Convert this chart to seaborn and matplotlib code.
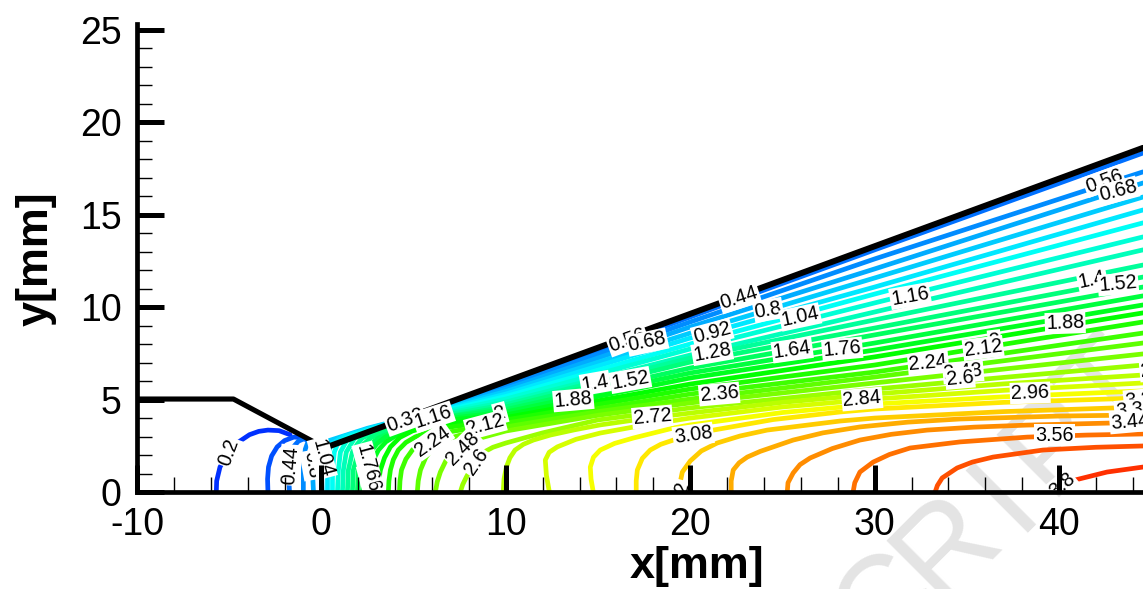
import pandas as pd
import matplotlib
matplotlib.use('Agg')
import matplotlib.pyplot as plt
from matplotlib.ticker import MultipleLocator
import seaborn as sns

# Contour values, [x mm, y mm] along each line
c_020 = [[-5.7, 0], [-5.68, 0.6], [-5.5, 1.35], [-5.1, 2.05], [-4.5, 2.7], [-3.9, 3.1], [-3.4, 3.28], [-2.9, 3.35], [-2.3, 3.32], [-1.7, 3.1]]
c_032 = [[-2.9, 0], [-2.92, 0.7], [-2.87, 1.35], [-2.7, 1.95], [-2.4, 2.44], [-2.0, 2.78], [-1.5, 2.97], [-1.1, 2.95], [-0.76, 2.8]]
c_044 = [[-1.73, 0], [-1.79, 1.19], [-1.75, 1.8], [-1.6, 2.35], [-1.25, 2.75], [-0.9, 2.9]]
c_044w = [[0.9, 2.72], [5.69, 4.37], [10, 5.84], [20, 9.47], [30, 13.1], [44.55, 18.34]]
c_056 = [[-0.98, 0], [-0.98, 1.19], [-0.95, 1.8], [-0.88, 2.3], [-0.7, 2.8]]
c_056w = [[0.9, 2.68], [5.69, 4.34], [10, 5.71], [20, 9.2], [30, 12.61], [44.55, 17.32]]
c_068 = [[-0.43, 0], [-0.49, 1.19], [-0.49, 2.16], [-0.43, 2.7]]
c_068w = [[0.9, 2.64], [5.69, 4.31], [10, 5.57], [20, 8.93], [30, 12.07], [44.55, 16.72]]
c_080 = [[0.05, 0], [0, 1.19], [0, 2.16], [0.16, 2.7], [2.5, 3.45], [5.69, 4.27], [10, 5.44], [20, 8.6], [30, 11.58], [44.55, 15.96]]
c_092 = [[0.33, 0], [0.33, 1.19], [0.38, 2.16], [0.54, 2.6], [1.2, 3.0], [3.0, 3.55], [5.69, 4.23], [10, 5.3], [20, 8.33], [30, 11.09], [44.55, 15.26]]
c_104 = [[0.6, 0], [0.6, 1.19], [0.7, 2.16], [0.92, 2.7], [1.6, 3.05], [3.3, 3.55], [5.69, 4.18], [10, 5.17], [20, 8.01], [30, 10.71], [44.55, 14.56]]
c_116 = [[0.87, 0], [0.92, 1.19], [1.03, 2.16], [1.41, 2.85], [2.1, 3.15], [3.6, 3.58], [5.69, 4.12], [10, 5.03], [20, 7.74], [30, 10.23], [44.55, 13.8]]
c_128 = [[1.14, 0], [1.19, 1.19], [1.35, 2.16], [1.79, 2.9], [2.5, 3.2], [3.8, 3.58], [5.69, 4.05], [10, 4.87], [20, 7.41], [30, 9.74], [44.55, 13.1]]
c_140 = [[1.41, 0], [1.46, 1.19], [1.68, 2.16], [1.95, 2.6], [2.22, 2.92], [2.9, 3.25], [4.0, 3.58], [5.69, 3.98], [10, 4.73], [20, 7.25], [30, 9.31], [44.55, 12.28]]
c_152 = [[1.68, 0], [1.73, 1.19], [2.0, 2.16], [2.3, 2.6], [2.66, 2.92], [3.3, 3.25], [4.3, 3.58], [5.69, 3.9], [10, 4.6], [20, 7.03], [30, 8.87], [44.55, 11.63]]
c_164 = [[1.95, 0], [2.0, 1.19], [2.12, 1.75], [2.33, 2.16], [2.65, 2.58], [3.09, 2.92], [4.2, 3.4], [5.69, 3.82], [7.5, 4.15], [10, 4.46], [20, 6.71], [30, 8.5], [44.55, 11.09]]
c_176 = [[2.22, 0], [2.33, 1.19], [2.47, 1.75], [2.66, 2.16], [3.0, 2.6], [3.47, 2.98], [4.5, 3.42], [5.69, 3.74], [7.5, 4.05], [10, 4.33], [20, 6.44], [30, 8.06], [44.55, 10.61]]
c_188 = [[2.55, 0], [2.66, 1.19], [2.85, 1.8], [3.09, 2.27], [3.5, 2.72], [4.01, 3.03], [4.8, 3.38], [5.69, 3.66], [7.5, 3.95], [10, 4.17], [20, 6.17], [30, 7.68], [44.55, 10.12]]
c_200 = [[3.04, 0], [3.1, 0.6], [3.2, 1.19], [3.42, 1.85], [3.74, 2.44], [4.25, 2.95], [4.93, 3.3], [5.8, 3.55], [7, 3.72], [10, 4.03], [20, 5.84], [30, 7.31], [44.55, 9.69]]
c_212 = [[3.63, 0], [3.66, 0.6], [3.74, 1.19], [3.9, 1.75], [4.17, 2.27], [4.58, 2.68], [5.09, 2.98], [5.95, 3.3], [7, 3.52], [10, 3.9], [20, 5.57], [30, 6.87], [44.55, 9.2]]
c_224 = [[4.23, 0], [4.26, 0.6], [4.34, 1.19], [4.58, 1.78], [4.93, 2.27], [5.35, 2.68], [5.91, 2.98], [6.6, 3.2], [7.53, 3.35], [10, 3.73], [20, 5.3], [30, 6.49], [44.55, 8.6]]
c_236 = [[5.2, 0], [5.25, 0.6], [5.37, 1.19], [5.65, 1.85], [6.07, 2.44], [6.7, 2.83], [7.53, 3.08], [8.7, 3.32], [10, 3.52], [15, 4.35], [20, 5.03], [30, 6.22], [37, 7.1], [44.55, 8.06]]
c_248 = [[6.18, 0], [6.28, 0.55], [6.45, 1.08], [6.8, 1.8], [7.26, 2.38], [7.9, 2.72], [8.62, 2.92], [10, 3.3], [15, 4.15], [20, 4.82], [30, 5.9], [37, 6.65], [44.55, 7.47]]
c_260 = [[7.53, 0], [7.66, 0.4], [7.86, 0.81], [8.25, 1.5], [8.73, 2.11], [9.3, 2.42], [10, 2.65], [12, 3.2], [15, 3.9], [20, 4.55], [30, 5.57], [37, 6.2], [44.55, 6.87]]
c_272 = [[9.86, 0], [9.9, 0.7], [10.03, 1.35], [10.22, 1.85], [10.5, 2.27], [10.95, 2.58], [11.49, 2.81], [12.41, 3.08], [13.7, 3.36], [15.12, 3.63], [17.5, 3.97], [20, 4.27], [25, 4.85], [30, 5.3], [37, 5.85], [44.55, 6.33]]
c_284 = [[12.36, 0], [12.2, 0.9], [12.14, 1.73], [12.35, 2.15], [12.79, 2.44], [13.8, 2.85], [15.12, 3.19], [17.5, 3.62], [20, 4.0], [25, 4.6], [30, 5.03], [37, 5.5], [44.55, 5.9]]
c_296 = [[14.74, 0], [14.62, 0.7], [14.58, 1.35], [14.75, 1.88], [15.12, 2.27], [15.9, 2.63], [16.91, 2.92], [19.08, 3.46], [20, 3.63], [25, 4.3], [30, 4.76], [37, 5.15], [44.55, 5.47]]
c_308 = [[17.07, 0], [17.07, 0.6], [17.13, 1.19], [17.4, 1.82], [17.83, 2.27], [18.4, 2.58], [19.08, 2.81], [20, 3.08], [21.25, 3.35], [24.5, 3.92], [28.13, 4.33], [30, 4.49], [37, 4.85], [44.55, 5.09]]
c_320 = [[19.46, 0], [19.46, 0.55], [19.57, 1.08], [20, 1.68], [20.6, 2.22], [21.46, 2.65], [22.7, 3.03], [24.17, 3.35], [28.13, 3.84], [30, 4.0], [37, 4.35], [44.55, 4.6]]
c_332 = [[22.22, 0], [22.22, 0.6], [22.33, 1.19], [22.65, 1.58], [23.09, 1.89], [23.8, 2.2], [25.58, 2.81], [27.2, 3.2], [29.2, 3.52], [31.8, 3.78], [34.63, 3.95], [40.05, 4.11], [44.55, 4.17]]
c_344 = [[25.26, 0], [25.3, 0.5], [25.58, 1.03], [25.95, 1.48], [26.5, 1.84], [27.7, 2.35], [29.2, 2.81], [30.9, 3.12], [32.85, 3.35], [35.4, 3.51], [38.27, 3.62], [42.76, 3.73], [44.55, 3.76]]
c_356 = [[28.83, 0], [28.92, 0.5], [29.2, 1.08], [29.92, 1.62], [30.8, 2.03], [31.92, 2.38], [34.63, 2.71], [38.27, 2.97], [41.5, 3.08], [44.55, 3.14]]
c_368 = [[33.28, 0], [33.4, 0.35], [33.66, 0.76], [34.47, 1.3], [35.3, 1.62], [36.42, 1.89], [39.13, 2.27], [42, 2.42], [44.55, 2.49]]
c_380 = [[39.62, 0.1], [40.87, 0.65], [42.6, 1.08], [44.55, 1.35]]

contour_levels = [0.2, 0.32, 0.44, 0.44, 0.56, 0.56, 0.68, 0.68, 0.8, 0.92, 1.04, 1.16, 1.28, 1.4, 1.52, 1.64, 1.76,
                  1.88, 2.0, 2.12, 2.24, 2.36, 2.48, 2.6, 2.72, 2.84, 2.96, 3.08, 3.2, 3.32, 3.44, 3.56, 3.68, 3.8]
contour_lines = [c_020, c_032, c_044, c_044w, c_056, c_056w, c_068, c_068w, c_080, c_092, c_104, c_116, c_128, c_140,
                 c_152, c_164, c_176, c_188, c_200, c_212, c_224, c_236, c_248, c_260, c_272, c_284, c_296, c_308,
                 c_320, c_332, c_344, c_356, c_368, c_380]

# Nozzle and wedge walls
nozzle_x = [-10, -4.77, -0.3]
nozzle_y = [5.03, 5.03, 2.65]
wedge_x = [0.49, 44.55]
wedge_y = [2.5, 18.62]

# Contour labels, later ones sit on top of earlier ones
label_text = ['0.2', '0.32', '0.44', '0.44', '0.56', '0.68', '0.56', '0.68', '0.8', '1.04', '0.92', '1.28', '1.64',
              '1.76', '1.16', '1.16', '1.4', '1.52', '1.88', '2.36', '2.72', '3.08', '2.84', '2.96', '3.56', '1.88',
              '2', '2.12', '2.24', '2.48', '2.6', '1.4', '1.52', '3.2', '3.32', '3.44', '2.36', '2.24', '2', '2.12',
              '2.48', '2.6', '1.64', '1.76', '0.8', '1.04', '3.2', '3.8']
label_x = [-5.04, 4.55, 22.66, -1.68, 42.44, 43.2, 16.6, 17.67, 24.23, 25.96, 21.19, 21.19, 25.53, 28.24, 31.92,
           6.07, 14.85, 16.75, 13.66, 21.57, 17.94, 20.16, 29.32, 38.43, 39.73, 40.33, 36.5, 35.88, 32.9, 34.8, 34.63,
           41.8, 43.2, 44.3, 44.1, 43.85, 45.47, 6.02, 9.7, 8.89, 7.64, 8.4, 2.71, 2.47, -0.49, 0.05, 19.46, 40.16]
label_y = [2.16, 3.9, 10.5, 1.46, 16.82, 16.28, 8.2, 8.11, 9.85, 9.47, 8.6, 7.57, 7.68, 7.74, 10.6, 4.06, 5.9, 6.06,
           4.98, 5.3, 4.06, 3.08, 5.03, 5.36, 3.08, 9.14, 8.2, 7.79, 6.98, 6.49, 6.17, 11.47, 11.25, 4.98, 4.44, 3.79,
           6.6, 2.76, 4.27, 3.62, 2.38, 1.62, 0.43, 1.57, 1.46, 1.84, -0.16, 0.38]
label_rot = [70, 20, 18, 85, 20, 15, 20, 12, 10, 12, 15, 10, 8, 5, 10, 18, 10, 10, 5, 5, 5, 8, 5, 2, 0, 2, 7, 7, 5, 5,
             5, 12, 5, 5, 5, 5, 5, 35, 15, 15, 45, 55, -75, -75, -80, -75, 75, 40]

# Watermark letters behind the plot
mark_letters = ['C', 'R', 'I', 'P', 'T']
mark_px = [888, 948, 1005, 1055, 1110]
mark_py = [605, 547, 497, 443, 390]

sns.set_style('ticks')
plt.rcParams['font.family'] = ['Liberation Sans', 'DejaVu Sans']
plt.rcParams['axes.unicode_minus'] = False
plt.rcParams['axes.axisbelow'] = False
plt.rcParams['text.color'] = 'black'
plt.rcParams['axes.labelcolor'] = 'black'
plt.rcParams['xtick.labelcolor'] = 'black'
plt.rcParams['ytick.labelcolor'] = 'black'

rows = []
for seg, (level, line) in enumerate(zip(contour_levels, contour_lines)):
    for x, y in line:
        rows.append({'x': x, 'y': y, 'level': level, 'segment': seg})
df = pd.DataFrame(rows)

# blue at 0 up to red at 4, same as the rainbow in the picture
rainbow = sns.blend_palette(['#0000ff', '#00ffff', '#00ff00', '#ffff00', '#ff0000'], as_cmap=True)
palette = {lv: rainbow(lv / 4.0) for lv in df['level'].unique()}

fig = plt.figure(figsize=(11.43, 5.89), dpi=100)
ax = fig.add_axes([137 / 1143, 97 / 589, 1006 / 1143, 468 / 589])
ax.set_facecolor('none')

for letter, px, py in zip(mark_letters, mark_px, mark_py):
    fig.text(px / 1143, 1 - py / 589, letter, color='#e4e4e4', fontsize=92, rotation=45,
             rotation_mode='anchor', ha='center', va='center', zorder=-1)

sns.lineplot(data=df, x='x', y='y', hue='level', units='segment', estimator=None, sort=False,
             palette=palette, linewidth=3.4, legend=False, ax=ax, zorder=2)

# walls
sns.lineplot(x=nozzle_x, y=nozzle_y, color='black', linewidth=3.7, estimator=None, sort=False, ax=ax, zorder=2.1)
sns.lineplot(x=wedge_x, y=wedge_y, color='black', linewidth=4.3, estimator=None, sort=False, ax=ax, zorder=2.1)

for txt, x, y, rot in zip(label_text, label_x, label_y, label_rot):
    ax.text(x, y, txt, fontsize=14.2, rotation=rot, rotation_mode='anchor', ha='center', va='center',
            clip_on=True, zorder=2.2, bbox=dict(facecolor='white', edgecolor='none', pad=0.8))

ax.set_xlim(-10, 44.55)
ax.set_ylim(0, 25.32)
ax.xaxis.set_major_locator(MultipleLocator(10))
ax.xaxis.set_minor_locator(MultipleLocator(2))
ax.yaxis.set_major_locator(MultipleLocator(5))
ax.yaxis.set_minor_locator(MultipleLocator(1))
ax.tick_params(which='major', direction='in', length=19.4, width=3.6, labelsize=27, pad=11, color='black')
ax.tick_params(which='minor', direction='in', length=10.8, width=1.0, color='black')

sns.despine(ax=ax)
for side in ['left', 'bottom']:
    ax.spines[side].set_linewidth(3.4)
    ax.spines[side].set_color('black')

ax.set_xlabel('x[mm]', fontsize=32.4, fontweight='bold')
ax.set_ylabel('y[mm]', fontsize=32.4, fontweight='bold')
ax.xaxis.set_label_coords(0.557, -0.115)
ax.yaxis.set_label_coords(-0.0795, 0.498)

fig.savefig('out.png', dpi=100)
